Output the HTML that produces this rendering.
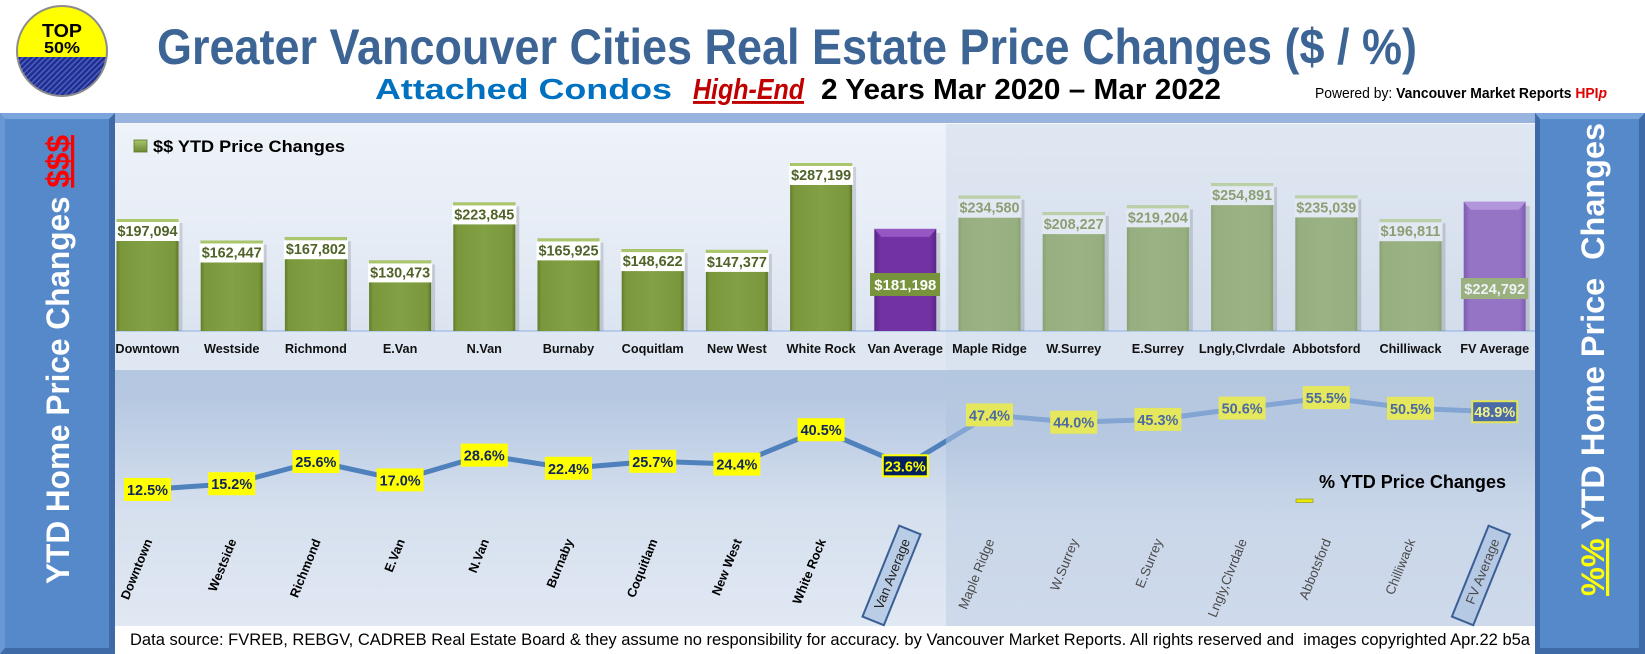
<!DOCTYPE html>
<html><head><meta charset="utf-8">
<style>
html,body{margin:0;padding:0;background:#fff;}
body{width:1645px;height:654px;overflow:hidden;}
svg{display:block;font-family:"Liberation Sans",Arial,sans-serif;}
</style></head>
<body>
<svg width="1645" height="654" viewBox="0 0 1645 654" xmlns="http://www.w3.org/2000/svg">
<defs>
<pattern id="hatch" width="4" height="4" patternUnits="userSpaceOnUse" patternTransform="rotate(45)">
<rect width="4" height="4" fill="#1f2e8f"/><rect width="1.5" height="4" fill="#4d5fc0"/>
</pattern>
<clipPath id="lc"><circle cx="62" cy="51" r="45"/></clipPath>
<linearGradient id="gG" x1="0" x2="1" y1="0" y2="0"><stop offset="0" stop-color="#617b2b"/><stop offset=".06" stop-color="#7a973c"/><stop offset=".5" stop-color="#82a044"/><stop offset=".94" stop-color="#7a973c"/><stop offset="1" stop-color="#5b7427"/></linearGradient>
<linearGradient id="gF" x1="0" x2="1" y1="0" y2="0"><stop offset="0" stop-color="#88a072"/><stop offset=".06" stop-color="#97af80"/><stop offset=".5" stop-color="#9bb284"/><stop offset=".94" stop-color="#97af80"/><stop offset="1" stop-color="#86a070"/></linearGradient>
<linearGradient id="gP" x1="0" x2="1" y1="0" y2="0"><stop offset="0" stop-color="#5b2588"/><stop offset=".1" stop-color="#7232a3"/><stop offset=".9" stop-color="#7232a3"/><stop offset="1" stop-color="#5b2588"/></linearGradient>
<linearGradient id="gP2" x1="0" x2="1" y1="0" y2="0"><stop offset="0" stop-color="#7f5cb3"/><stop offset=".1" stop-color="#9573c5"/><stop offset=".9" stop-color="#9573c5"/><stop offset="1" stop-color="#7f5cb3"/></linearGradient>
<linearGradient id="gU" x1="0" x2="0" y1="0" y2="1"><stop offset="0" stop-color="#eef2f9"/><stop offset=".5" stop-color="#e7edf6"/><stop offset="1" stop-color="#dbe4f0"/></linearGradient>
<linearGradient id="gUF" x1="0" x2="0" y1="0" y2="1"><stop offset="0" stop-color="#dfe7f2"/><stop offset="1" stop-color="#d3ddeb"/></linearGradient>
<linearGradient id="gL" x1="0" x2="0" y1="0" y2="1"><stop offset="0" stop-color="#b4c7e0"/><stop offset=".1" stop-color="#b6c8e1"/><stop offset=".3" stop-color="#c3d2e7"/><stop offset=".45" stop-color="#cfdbec"/><stop offset=".55" stop-color="#d6e0ee"/><stop offset="1" stop-color="#e0e8f3"/></linearGradient>
<linearGradient id="gLF" x1="0" x2="0" y1="0" y2="1"><stop offset="0" stop-color="#b4c7e0"/><stop offset=".3" stop-color="#b7c9e1"/><stop offset=".5" stop-color="#c6d4e8"/><stop offset=".6" stop-color="#cad7ea"/><stop offset="1" stop-color="#cedaeb"/></linearGradient>
<linearGradient id="gLeg" x1="0" x2="0" y1="0" y2="1"><stop offset="0" stop-color="#a9c66a"/><stop offset="1" stop-color="#6d8a32"/></linearGradient>
<clipPath id="cV"><rect x="100" y="360" width="846" height="270"/></clipPath>
<clipPath id="cF"><rect x="946" y="360" width="600" height="270"/></clipPath>
</defs>

<!-- header -->
<rect x="0" y="0" width="1645" height="654" fill="#ffffff"/>
<g clip-path="url(#lc)">
<rect x="0" y="0" width="130" height="57" fill="#ffff00"/>
<rect x="0" y="57" width="130" height="50" fill="url(#hatch)"/>
</g>
<circle cx="62" cy="51" r="45" fill="none" stroke="#8c8c8c" stroke-width="2"/>
<text x="62" y="37" font-size="18" font-weight="bold" text-anchor="middle" fill="#000" textLength="40" lengthAdjust="spacingAndGlyphs">TOP</text>
<text x="62" y="53" font-size="16" font-weight="bold" text-anchor="middle" fill="#000" textLength="36" lengthAdjust="spacingAndGlyphs">50%</text>

<text x="157" y="64" font-size="50" font-weight="bold" fill="#3c6595" textLength="1260" lengthAdjust="spacingAndGlyphs">Greater Vancouver Cities Real Estate Price Changes ($ / %)</text>
<text x="375" y="99" font-size="29" font-weight="bold" fill="#0070c0" textLength="297" lengthAdjust="spacingAndGlyphs">Attached Condos</text>
<text x="693" y="99" font-size="29" font-weight="bold" font-style="italic" fill="#c00000" text-decoration="underline" textLength="111" lengthAdjust="spacingAndGlyphs">High-End</text>
<text x="821" y="99" font-size="29" font-weight="bold" fill="#000" textLength="400" lengthAdjust="spacingAndGlyphs">2 Years Mar 2020 – Mar 2022</text>
<text x="1315" y="98" font-size="15" fill="#000" textLength="292" lengthAdjust="spacingAndGlyphs">Powered by: <tspan font-weight="bold">Vancouver Market Reports </tspan><tspan font-weight="bold" fill="#e00000">HPI</tspan><tspan font-weight="bold" font-style="italic" fill="#e00000">p</tspan></text>

<!-- chart backgrounds -->
<rect x="115" y="113" width="1420" height="10" fill="#98b4de"/>
<rect x="115" y="123" width="831" height="208" fill="url(#gU)"/>
<rect x="946" y="123" width="589" height="208" fill="url(#gUF)"/>
<rect x="115" y="123" width="1420" height="1" fill="#f4f7fb"/>
<rect x="115" y="331" width="831" height="39" fill="#dfe7f2"/>
<rect x="946" y="331" width="589" height="39" fill="#d9e2ef"/>
<rect x="115" y="370" width="831" height="256" fill="url(#gL)"/>
<rect x="946" y="370" width="589" height="256" fill="url(#gLF)"/>
<rect x="115" y="626" width="1420" height="28" fill="#ffffff"/>
<rect x="115" y="330.5" width="1420" height="1" fill="#8db3e2"/>

<!-- legend top -->
<rect x="134" y="140" width="13" height="12" fill="url(#gLeg)" stroke="#5d7628" stroke-width="0.8"/>
<text x="153" y="152" font-size="17" font-weight="bold" fill="#000" textLength="192" lengthAdjust="spacingAndGlyphs">$$ YTD Price Changes</text>

<!-- bars: shadows -->
<g fill="#000" opacity="0.13">
<rect x="178.5" y="223" width="4" height="108"/>
<rect x="262.7" y="244.5" width="4" height="86.5"/>
<rect x="346.9" y="241.2" width="4" height="89.8"/>
<rect x="431.1" y="264.4" width="4" height="66.6"/>
<rect x="515.3" y="206.4" width="4" height="124.6"/>
<rect x="599.5" y="242.4" width="4" height="88.6"/>
<rect x="683.7" y="253.1" width="4" height="77.9"/>
<rect x="767.9" y="253.9" width="4" height="77.1"/>
<rect x="852.1" y="167" width="4" height="164"/>
<rect x="936.3" y="232.9" width="4" height="98.1"/>
<rect x="1020.5" y="199.7" width="4" height="131.3"/>
<rect x="1104.7" y="216.1" width="4" height="114.9"/>
<rect x="1188.9" y="209.3" width="4" height="121.7"/>
<rect x="1273.1" y="187.1" width="4" height="143.9"/>
<rect x="1357.3" y="199.4" width="4" height="131.6"/>
<rect x="1441.5" y="223.2" width="4" height="107.8"/>
<rect x="1525.7" y="205.8" width="4" height="125.2"/>
</g>
<!-- van bars -->
<g fill="url(#gG)">
<rect x="116.5" y="219" width="62" height="112"/>
<rect x="200.7" y="240.5" width="62" height="90.5"/>
<rect x="284.9" y="237.2" width="62" height="93.8"/>
<rect x="369.1" y="260.4" width="62" height="70.6"/>
<rect x="453.3" y="202.4" width="62" height="128.6"/>
<rect x="537.5" y="238.4" width="62" height="92.6"/>
<rect x="621.7" y="249.1" width="62" height="81.9"/>
<rect x="705.9" y="249.9" width="62" height="81.1"/>
<rect x="790.1" y="163" width="62" height="168"/>
</g>
<g fill="#a9c66a">
<rect x="116.5" y="219" width="62" height="3"/>
<rect x="200.7" y="240.5" width="62" height="3"/>
<rect x="284.9" y="237.2" width="62" height="3"/>
<rect x="369.1" y="260.4" width="62" height="3"/>
<rect x="453.3" y="202.4" width="62" height="3"/>
<rect x="537.5" y="238.4" width="62" height="3"/>
<rect x="621.7" y="249.1" width="62" height="3"/>
<rect x="705.9" y="249.9" width="62" height="3"/>
<rect x="790.1" y="163" width="62" height="3"/>
</g>
<!-- fv bars -->
<g fill="url(#gF)">
<rect x="958.5" y="195.7" width="62" height="135.3"/>
<rect x="1042.7" y="212.1" width="62" height="118.9"/>
<rect x="1126.9" y="205.3" width="62" height="125.7"/>
<rect x="1211.1" y="183.1" width="62" height="147.9"/>
<rect x="1295.3" y="195.4" width="62" height="135.6"/>
<rect x="1379.5" y="219.2" width="62" height="111.8"/>
</g>
<g fill="#bcd0a8">
<rect x="958.5" y="195.7" width="62" height="3"/>
<rect x="1042.7" y="212.1" width="62" height="3"/>
<rect x="1126.9" y="205.3" width="62" height="3"/>
<rect x="1211.1" y="183.1" width="62" height="3"/>
<rect x="1295.3" y="195.4" width="62" height="3"/>
<rect x="1379.5" y="219.2" width="62" height="3"/>
</g>
<!-- averages -->
<rect x="874.3" y="228.9" width="62" height="102.1" fill="url(#gP)"/>
<polygon points="874.3,228.9 936.3,228.9 929.3,236.9 881.3,236.9" fill="#9657c4"/>
<rect x="1463.7" y="201.8" width="62" height="129.2" fill="url(#gP2)"/>
<polygon points="1463.7,201.8 1525.7,201.8 1518.7,209.8 1470.7,209.8" fill="#b196dc"/>

<!-- value labels -->
<g fill="#ffffff">
<rect x="115.5" y="222" width="64" height="19"/>
<rect x="199.7" y="243.5" width="64" height="19"/>
<rect x="283.9" y="240.2" width="64" height="19"/>
<rect x="368.1" y="263.4" width="64" height="19"/>
<rect x="452.3" y="205.4" width="64" height="19"/>
<rect x="536.5" y="241.4" width="64" height="19"/>
<rect x="620.7" y="252.1" width="64" height="19"/>
<rect x="704.9" y="252.9" width="64" height="19"/>
<rect x="789.1" y="166" width="64" height="19"/>
</g>
<g fill="#e2e9f3">
<rect x="957.5" y="198.7" width="64" height="19"/>
<rect x="1041.7" y="215.1" width="64" height="19"/>
<rect x="1125.9" y="208.3" width="64" height="19"/>
<rect x="1210.1" y="186.1" width="64" height="19"/>
<rect x="1294.3" y="198.4" width="64" height="19"/>
<rect x="1378.5" y="222.2" width="64" height="19"/>
</g>
<rect x="870" y="273" width="70" height="23" fill="#77933c"/>
<rect x="1461" y="278" width="67" height="21" fill="#9bb07f"/>
<g font-size="14.5" font-weight="bold" text-anchor="middle" fill="#4f6228">
<text x="147.5" y="236" textLength="60" lengthAdjust="spacingAndGlyphs">$197,094</text>
<text x="231.7" y="257.5" textLength="60" lengthAdjust="spacingAndGlyphs">$162,447</text>
<text x="315.9" y="254.2" textLength="60" lengthAdjust="spacingAndGlyphs">$167,802</text>
<text x="400.1" y="277.4" textLength="60" lengthAdjust="spacingAndGlyphs">$130,473</text>
<text x="484.3" y="219.4" textLength="60" lengthAdjust="spacingAndGlyphs">$223,845</text>
<text x="568.5" y="255.4" textLength="60" lengthAdjust="spacingAndGlyphs">$165,925</text>
<text x="652.7" y="266.1" textLength="60" lengthAdjust="spacingAndGlyphs">$148,622</text>
<text x="736.9" y="266.9" textLength="60" lengthAdjust="spacingAndGlyphs">$147,377</text>
<text x="821.1" y="180" textLength="60" lengthAdjust="spacingAndGlyphs">$287,199</text>
</g>
<g font-size="14.5" font-weight="bold" text-anchor="middle" fill="#8c9f74">
<text x="989.5" y="212.7" textLength="60" lengthAdjust="spacingAndGlyphs">$234,580</text>
<text x="1073.7" y="229.1" textLength="60" lengthAdjust="spacingAndGlyphs">$208,227</text>
<text x="1157.9" y="222.3" textLength="60" lengthAdjust="spacingAndGlyphs">$219,204</text>
<text x="1242.1" y="200.1" textLength="60" lengthAdjust="spacingAndGlyphs">$254,891</text>
<text x="1326.3" y="212.4" textLength="60" lengthAdjust="spacingAndGlyphs">$235,039</text>
<text x="1410.5" y="236.2" textLength="60" lengthAdjust="spacingAndGlyphs">$196,811</text>
</g>
<text x="905.3" y="290" font-size="15" font-weight="bold" text-anchor="middle" fill="#ffffff" textLength="62" lengthAdjust="spacingAndGlyphs">$181,198</text>
<text x="1494.7" y="294" font-size="15" font-weight="bold" text-anchor="middle" fill="#eef2f7" textLength="61" lengthAdjust="spacingAndGlyphs">$224,792</text>

<!-- category labels top -->
<g font-size="12.7" font-weight="bold" text-anchor="middle" fill="#111">
<text x="147.5" y="353">Downtown</text>
<text x="231.7" y="353">Westside</text>
<text x="315.9" y="353">Richmond</text>
<text x="400.1" y="353">E.Van</text>
<text x="484.3" y="353">N.Van</text>
<text x="568.5" y="353">Burnaby</text>
<text x="652.7" y="353">Coquitlam</text>
<text x="736.9" y="353">New West</text>
<text x="821.1" y="353">White Rock</text>
<text x="905.3" y="353">Van Average</text>
<text x="989.5" y="353">Maple Ridge</text>
<text x="1073.7" y="353">W.Surrey</text>
<text x="1157.9" y="353">E.Surrey</text>
<text x="1242.1" y="353">Lngly,Clvrdale</text>
<text x="1326.3" y="353">Abbotsford</text>
<text x="1410.5" y="353">Chilliwack</text>
<text x="1494.7" y="353">FV Average</text>
</g>

<!-- line chart -->
<polyline clip-path="url(#cV)" fill="none" stroke="#4f81bd" stroke-width="5" stroke-linejoin="round" points="147.5,489.5 231.7,483.7 315.9,461.5 400.1,479.9 484.3,455.1 568.5,468.3 652.7,461.3 736.9,464.1 821.1,429.7 905.3,465.8 989.5,414.9 1073.7,422.2 1157.9,419.4 1242.1,408.1 1326.3,397.6 1410.5,408.3 1494.7,411.7"/>
<polyline clip-path="url(#cF)" fill="none" stroke="#83a5d3" stroke-width="5" stroke-linejoin="round" points="147.5,489.5 231.7,483.7 315.9,461.5 400.1,479.9 484.3,455.1 568.5,468.3 652.7,461.3 736.9,464.1 821.1,429.7 905.3,465.8 989.5,414.9 1073.7,422.2 1157.9,419.4 1242.1,408.1 1326.3,397.6 1410.5,408.3 1494.7,411.7"/>

<g fill="#ffff00">
<rect x="124" y="478" width="47" height="23"/>
<rect x="208.2" y="472.2" width="47" height="23"/>
<rect x="292.4" y="450" width="47" height="23"/>
<rect x="376.6" y="468.4" width="47" height="23"/>
<rect x="460.8" y="443.6" width="47" height="23"/>
<rect x="545" y="456.8" width="47" height="23"/>
<rect x="629.2" y="449.8" width="47" height="23"/>
<rect x="713.4" y="452.6" width="47" height="23"/>
<rect x="797.6" y="418.2" width="47" height="23"/>
</g>
<g fill="#e5e75c">
<rect x="966" y="403.4" width="47" height="23"/>
<rect x="1050.2" y="410.7" width="47" height="23"/>
<rect x="1134.4" y="407.9" width="47" height="23"/>
<rect x="1218.6" y="396.6" width="47" height="23"/>
<rect x="1302.8" y="386.1" width="47" height="23"/>
<rect x="1387" y="396.8" width="47" height="23"/>
</g>
<rect x="882.8" y="455.3" width="45" height="21" fill="#002060" stroke="#ffff00" stroke-width="2"/>
<rect x="1472.2" y="401.2" width="45" height="21" fill="#4b6aa8" stroke="#e2e55a" stroke-width="2"/>
<g font-size="15" font-weight="bold" text-anchor="middle" fill="#10265a">
<text x="147.5" y="495" textLength="41" lengthAdjust="spacingAndGlyphs">12.5%</text>
<text x="231.7" y="489.2" textLength="41" lengthAdjust="spacingAndGlyphs">15.2%</text>
<text x="315.9" y="467" textLength="41" lengthAdjust="spacingAndGlyphs">25.6%</text>
<text x="400.1" y="485.4" textLength="41" lengthAdjust="spacingAndGlyphs">17.0%</text>
<text x="484.3" y="460.6" textLength="41" lengthAdjust="spacingAndGlyphs">28.6%</text>
<text x="568.5" y="473.8" textLength="41" lengthAdjust="spacingAndGlyphs">22.4%</text>
<text x="652.7" y="466.8" textLength="41" lengthAdjust="spacingAndGlyphs">25.7%</text>
<text x="736.9" y="469.6" textLength="41" lengthAdjust="spacingAndGlyphs">24.4%</text>
<text x="821.1" y="435.2" textLength="41" lengthAdjust="spacingAndGlyphs">40.5%</text>
</g>
<g font-size="15" font-weight="bold" text-anchor="middle" fill="#4b6aa3">
<text x="989.5" y="420.4" textLength="41" lengthAdjust="spacingAndGlyphs">47.4%</text>
<text x="1073.7" y="427.7" textLength="41" lengthAdjust="spacingAndGlyphs">44.0%</text>
<text x="1157.9" y="424.9" textLength="41" lengthAdjust="spacingAndGlyphs">45.3%</text>
<text x="1242.1" y="413.6" textLength="41" lengthAdjust="spacingAndGlyphs">50.6%</text>
<text x="1326.3" y="403.1" textLength="41" lengthAdjust="spacingAndGlyphs">55.5%</text>
<text x="1410.5" y="413.8" textLength="41" lengthAdjust="spacingAndGlyphs">50.5%</text>
</g>
<text x="905.3" y="471.3" font-size="15" font-weight="bold" text-anchor="middle" fill="#ffff00" textLength="41" lengthAdjust="spacingAndGlyphs">23.6%</text>
<text x="1494.7" y="417.2" font-size="15" font-weight="bold" text-anchor="middle" fill="#f2f28a" textLength="41" lengthAdjust="spacingAndGlyphs">48.9%</text>

<!-- lower legend -->
<text x="1319" y="488" font-size="18" font-weight="bold" fill="#000" textLength="187" lengthAdjust="spacingAndGlyphs">% YTD Price Changes</text>
<rect x="1296" y="499" width="17" height="3.5" fill="#e8e800" stroke="#8a8a20" stroke-width="0.6"/>

<!-- rotated labels -->
<g font-size="12.7" font-weight="bold" fill="#000" text-anchor="end">
<text transform="translate(152.5,541) rotate(-68)">Downtown</text>
<text transform="translate(236.7,541) rotate(-68)">Westside</text>
<text transform="translate(320.9,541) rotate(-68)">Richmond</text>
<text transform="translate(405.1,541) rotate(-68)">E.Van</text>
<text transform="translate(489.3,541) rotate(-68)">N.Van</text>
<text transform="translate(573.5,541) rotate(-68)">Burnaby</text>
<text transform="translate(657.7,541) rotate(-68)">Coquitlam</text>
<text transform="translate(741.9,541) rotate(-68)">New West</text>
<text transform="translate(826.1,541) rotate(-68)">White Rock</text>
</g>
<g transform="translate(910.3,541) rotate(-68)">
<rect x="-88" y="-16" width="98" height="23" fill="#b9cde6" stroke="#3a5f95" stroke-width="2"/>
<text x="0" y="0" font-size="13.3" fill="#222" text-anchor="end">Van Average</text>
</g>
<g font-size="13.3" fill="#4a4a4a" text-anchor="end">
<text transform="translate(994.5,541) rotate(-68)">Maple Ridge</text>
<text transform="translate(1078.7,541) rotate(-68)">W.Surrey</text>
<text transform="translate(1162.9,541) rotate(-68)">E.Surrey</text>
<text transform="translate(1247.1,541) rotate(-68)">Lngly,Clvrdale</text>
<text transform="translate(1331.3,541) rotate(-68)">Abbotsford</text>
<text transform="translate(1415.5,541) rotate(-68)">Chilliwack</text>
</g>
<g transform="translate(1499.7,541) rotate(-68)">
<rect x="-88" y="-16" width="98" height="23" fill="#b6c9e4" stroke="#3a5f95" stroke-width="2"/>
<text x="0" y="0" font-size="13.3" fill="#4a4a4a" text-anchor="end">FV Average</text>
</g>

<!-- footer -->
<text x="130" y="645" font-size="16.5" fill="#000" style="white-space:pre" textLength="1400" lengthAdjust="spacingAndGlyphs">Data source: FVREB, REBGV, CADREB Real Estate Board &amp; they assume no responsibility for accuracy. by Vancouver Market Reports. All rights reserved and  images copyrighted Apr.22 b5a</text>

<!-- left panel -->
<rect x="0" y="113" width="115" height="541" fill="#5689c9"/>
<polygon points="0,113 115,113 109,119 5,119" fill="#7aa4dc"/>
<polygon points="0,113 5,119 5,648 0,654" fill="#6a98d4"/>
<polygon points="115,113 115,654 109,648 109,119" fill="#3e6aa8"/>
<polygon points="0,654 115,654 109,648 5,648" fill="#3e6aa8"/>
<text transform="translate(69,584) rotate(-90)" font-size="32" font-weight="bold" fill="#ffffff" style="white-space:pre" textLength="449" lengthAdjust="spacingAndGlyphs">YTD Home Price Changes <tspan fill="#ff0000" text-decoration="underline">$$$</tspan></text>

<!-- right panel -->
<rect x="1535" y="113" width="110" height="541" fill="#5689c9"/>
<polygon points="1535,113 1645,113 1639,119 1540,119" fill="#7aa4dc"/>
<polygon points="1535,113 1540,119 1540,648 1535,654" fill="#3e6aa8"/>
<polygon points="1645,113 1645,654 1639,648 1639,119" fill="#3e6aa8"/>
<polygon points="1535,654 1645,654 1639,648 1540,648" fill="#3e6aa8"/>
<text transform="translate(1604,596) rotate(-90)" font-size="32" font-weight="bold" fill="#ffffff" style="white-space:pre" textLength="473" lengthAdjust="spacingAndGlyphs"><tspan fill="#ffff00" text-decoration="underline">%%</tspan> YTD Home Price  Changes</text>
</svg>
</body></html>
